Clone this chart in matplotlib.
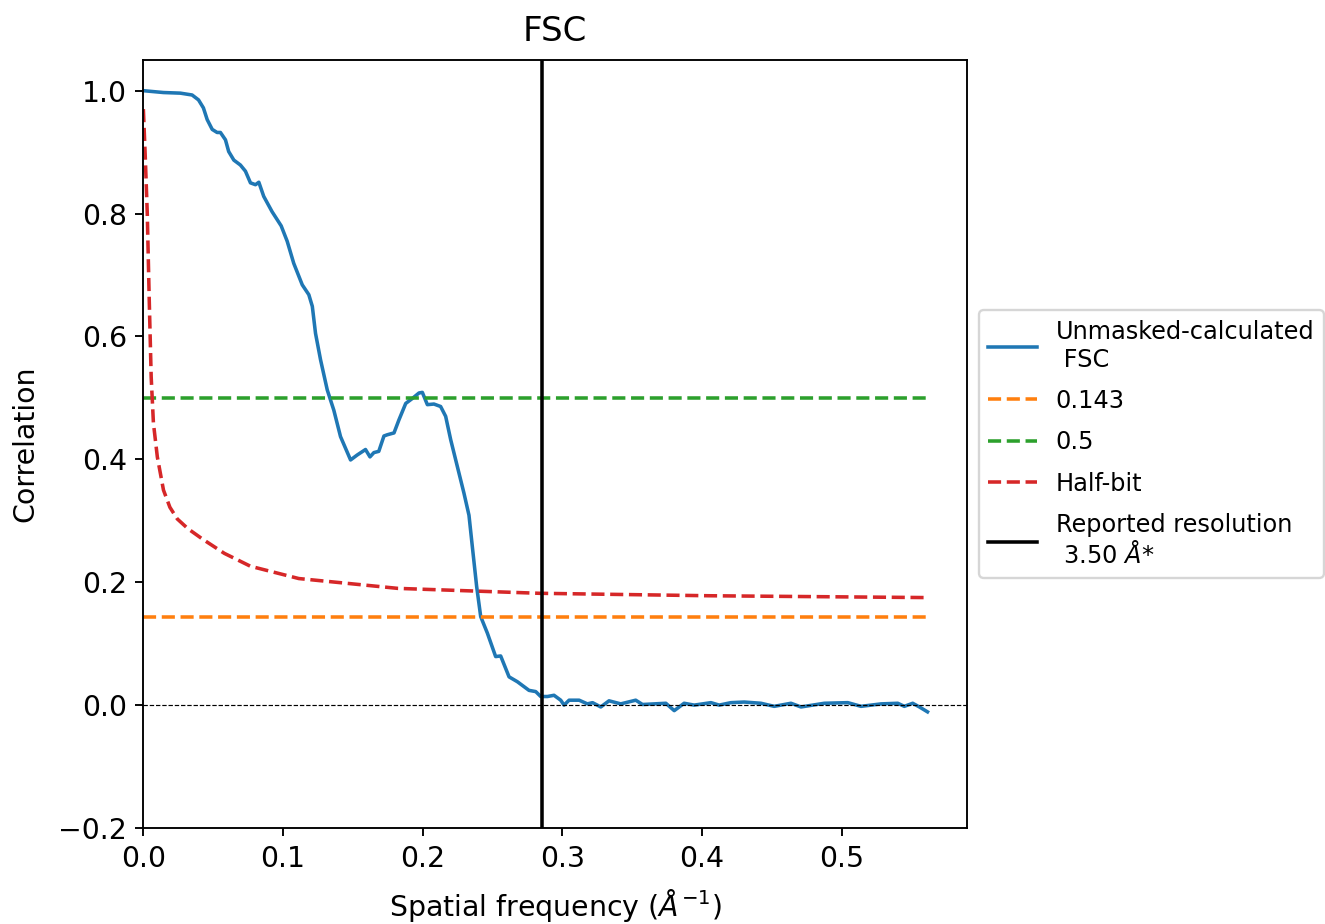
import matplotlib
matplotlib.use("Agg")
import matplotlib.pyplot as plt

# FSC curve (spatial frequency in 1/Angstrom, correlation)
freq = [0.0000, 0.0144, 0.0265, 0.0349, 0.0395, 0.0430, 0.0457, 0.0493, 0.0528, 0.0552,
        0.0588, 0.0611, 0.0648, 0.0695, 0.0731, 0.0767, 0.0803, 0.0827, 0.0862, 0.0922,
        0.0987, 0.1030, 0.1077, 0.1138, 0.1185, 0.1210, 0.1233, 0.1269, 0.1317, 0.1364,
        0.1412, 0.1484, 0.1531, 0.1591, 0.1623, 0.1651, 0.1686, 0.1723, 0.1747, 0.1795,
        0.1830, 0.1879, 0.1926, 0.1974, 0.1998, 0.2034, 0.2081, 0.2129, 0.2165, 0.2201,
        0.2249, 0.2296, 0.2332, 0.2356, 0.2387, 0.2416, 0.2464, 0.2523, 0.2559, 0.2619,
        0.2679, 0.2762, 0.2810, 0.2846, 0.2894, 0.2941, 0.2989, 0.3013, 0.3049, 0.3121,
        0.3180, 0.3217, 0.3276, 0.3335, 0.3419, 0.3526, 0.3575, 0.3742, 0.3802, 0.3873,
        0.3945, 0.4065, 0.4124, 0.4208, 0.4303, 0.4423, 0.4518, 0.4638, 0.4710, 0.4877,
        0.5045, 0.5140, 0.5284, 0.5403, 0.5450, 0.5510, 0.5558, 0.5616]
fsc = [1.000, 0.997, 0.996, 0.993, 0.985, 0.972, 0.953, 0.937, 0.932, 0.932,
       0.920, 0.901, 0.887, 0.879, 0.869, 0.850, 0.847, 0.851, 0.828, 0.803,
       0.780, 0.755, 0.719, 0.684, 0.668, 0.649, 0.605, 0.562, 0.513, 0.480,
       0.437, 0.399, 0.407, 0.416, 0.404, 0.411, 0.413, 0.438, 0.440, 0.443,
       0.464, 0.491, 0.499, 0.508, 0.509, 0.489, 0.490, 0.486, 0.470, 0.432,
       0.388, 0.345, 0.309, 0.258, 0.193, 0.144, 0.117, 0.079, 0.080, 0.046,
       0.038, 0.024, 0.022, 0.014, 0.014, 0.016, 0.008, 0.000, 0.008, 0.008,
       0.002, 0.004, -0.003, 0.007, 0.002, 0.008, 0.001, 0.003, -0.009, 0.003,
       0.000, 0.004, 0.000, 0.004, 0.005, 0.003, -0.002, 0.003, -0.003, 0.003,
       0.004, -0.002, 0.002, 0.003, -0.002, 0.003, -0.003, -0.011]

# Half-bit threshold curve
hb_freq = [0.0000, 0.0014, 0.0028, 0.0042, 0.0056, 0.0072, 0.0100, 0.0144, 0.0190,
           0.0243, 0.0320, 0.0425, 0.0580, 0.0767, 0.1113, 0.1822, 0.2834, 0.4049, 0.5616]
hb_val = [0.970, 0.890, 0.800, 0.660, 0.534, 0.459, 0.404, 0.350, 0.322,
          0.303, 0.287, 0.270, 0.247, 0.226, 0.206, 0.190, 0.182, 0.178, 0.175]

thresh_0143 = 0.143
thresh_05 = 0.5
resolution = 3.50

plt.rcParams["font.size"] = 12

DPI = 170
fig = plt.figure(figsize=(1325 / DPI, 924 / DPI), dpi=DPI)
ax = fig.add_axes([0.1082, 0.1039, 0.6214, 0.8312])

ax.plot(freq, fsc, color="C0", lw=1.5, label="Unmasked-calculated\n FSC")
ax.plot([freq[0], freq[-1]], [thresh_0143, thresh_0143], "--", color="C1", lw=1.5, label="0.143")
ax.plot([freq[0], freq[-1]], [thresh_05, thresh_05], "--", color="C2", lw=1.5, label="0.5")
ax.plot(hb_freq, hb_val, "--", color="C3", lw=1.5, label="Half-bit")
ax.axvline(1 / resolution, color="black", lw=1.5,
           label="Reported resolution\n %.2f $\\AA$*" % resolution)
ax.axhline(0, color="black", ls="--", lw=0.5)

ax.set_xlim(0, freq[-1] * 1.05)
ax.set_ylim(-0.2, 1.05)
ax.set_title("FSC", pad=8)
ax.set_xlabel("Spatial frequency ($\\AA^{-1}$)", labelpad=6)
ax.set_ylabel("Correlation", labelpad=8)
ax.legend(loc="center left", bbox_to_anchor=(1, 0.5), fontsize=10.2, labelspacing=0.72)

fig.savefig("out.png", dpi=DPI)
